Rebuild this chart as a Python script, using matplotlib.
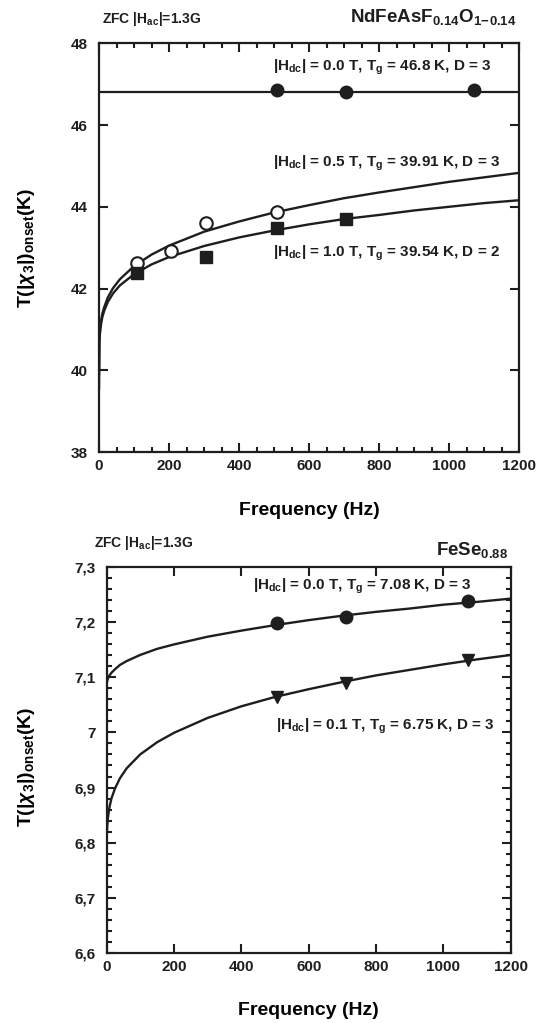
import numpy as np
import matplotlib
matplotlib.use('Agg')
import matplotlib.pyplot as plt
from matplotlib.ticker import MultipleLocator, FixedLocator, FixedFormatter

plt.rcParams['font.family'] = ['Liberation Sans', 'DejaVu Sans']
plt.rcParams['font.weight'] = 'bold'
plt.rcParams['mathtext.fontset'] = 'custom'
plt.rcParams['mathtext.rm'] = 'Liberation Sans:bold'
plt.rcParams['mathtext.it'] = 'Liberation Sans:italic'
plt.rcParams['mathtext.bf'] = 'Liberation Sans:bold'
plt.rcParams['mathtext.default'] = 'rm'

INK = '#1e1e1e'

# ---- NdFeAsF0.14O1-0.14 (top) ----
nd_f00 = [509, 707, 1071]
nd_t00 = [46.85, 46.82, 46.85]
nd_tg00 = 46.8
nd_f05 = [108, 205, 307, 509]
nd_t05 = [42.63, 42.91, 43.61, 43.87]
nd_f10 = [108, 307, 509, 707]
nd_t10 = [42.37, 42.78, 43.48, 43.69]

# fitted curves
fit_f = [0, 1, 2, 4, 7, 10, 15, 25, 40, 60, 100, 150, 200, 300, 400,
         500, 600, 700, 800, 900, 1000, 1100, 1200]
nd_fit05 = [39.91, 40.75, 40.90, 41.09, 41.27, 41.40, 41.55, 41.78, 42.01,
            42.23, 42.55, 42.83, 43.05, 43.39, 43.64, 43.86, 44.04, 44.21,
            44.35, 44.48, 44.61, 44.72, 44.83]
nd_fit10 = [39.54, 40.66, 40.83, 41.02, 41.19, 41.32, 41.46, 41.67, 41.88,
            42.08, 42.35, 42.59, 42.77, 43.04, 43.25, 43.42, 43.57, 43.70,
            43.80, 43.91, 44.00, 44.09, 44.16]

# ---- FeSe0.88 (bottom) ----
fe_f00 = [507, 710, 1073]
fe_t00 = [7.198, 7.208, 7.238]
fe_f01 = [507, 710, 1073]
fe_t01 = [7.064, 7.090, 7.130]
fe_fit00 = [7.080, 7.090, 7.093, 7.097, 7.101, 7.104, 7.108, 7.114, 7.122,
            7.129, 7.140, 7.151, 7.159, 7.173, 7.184, 7.194, 7.203, 7.211,
            7.218, 7.224, 7.231, 7.236, 7.242]
fe_fit01 = [6.750, 6.816, 6.829, 6.844, 6.858, 6.868, 6.881, 6.898, 6.917,
            6.935, 6.960, 6.982, 6.999, 7.026, 7.047, 7.064, 7.078, 7.091,
            7.103, 7.113, 7.123, 7.132, 7.140]
fe_yticks = [6.6, 6.7, 6.8, 6.9, 7.0, 7.1, 7.2, 7.3]
fe_ylabels = ['6,6', '6,7', '6,8', '6,9', '7', '7,1', '7,2', '7,3']

ylab = r'T(|$\mathit{\chi}_3$|)$_{\rm onset}$(K)'


def style(ax):
    for s in ax.spines.values():
        s.set_linewidth(1.6)
        s.set_color(INK)
    ax.tick_params(which='both', direction='in', top=True, right=True,
                   width=1.5, colors=INK, labelsize=11)
    ax.tick_params(which='major', length=6.5)
    ax.tick_params(which='minor', length=3.3)
    ax.tick_params(axis='x', pad=5)
    ax.tick_params(axis='y', pad=8)


fig = plt.figure(figsize=(5.51, 10.23), dpi=100)

# top panel
ax1 = fig.add_axes([0.1797, 0.5581, 0.7623, 0.3996])
ax1.axhline(nd_tg00, color=INK, lw=1.6)
ax1.plot(fit_f, nd_fit05, color=INK, lw=1.7)
ax1.plot(fit_f, nd_fit10, color=INK, lw=1.7)
ax1.plot(nd_f00, nd_t00, 'o', color=INK, ms=9)
ax1.plot(nd_f05, nd_t05, 'o', mfc='white', mec=INK, mew=1.5, ms=9)
ax1.plot(nd_f10, nd_t10, 's', color=INK, ms=9)
ax1.set_xlim(0, 1200)
ax1.set_ylim(38, 48)
ax1.xaxis.set_major_locator(MultipleLocator(200))
ax1.xaxis.set_minor_locator(MultipleLocator(50))
ax1.yaxis.set_major_locator(MultipleLocator(2))
style(ax1)
ax1.set_xlabel('Frequency (Hz)', fontsize=14, fontweight='bold', va='baseline')
ax1.xaxis.set_label_coords(0.5, -0.154)
ax1.set_ylabel(ylab, fontsize=14, fontweight='bold')
ax1.yaxis.set_label_coords(-0.148, 0.5)
ax1.text(498, 47.33, r'|H$_{\rm dc}$| = 0.0 T, T$_{\rm g}$ = 46.8 K, D = 3',
         fontsize=11, va='baseline', color=INK)
ax1.text(498, 44.98, r'|H$_{\rm dc}$| = 0.5 T, T$_{\rm g}$ = 39.91 K, D = 3',
         fontsize=11, va='baseline', color=INK)
ax1.text(498, 42.77, r'|H$_{\rm dc}$| = 1.0 T, T$_{\rm g}$ = 39.54 K, D = 2',
         fontsize=11, va='baseline', color=INK)
fig.text(101.7 / 551, 1 - 22.7 / 1023, r'ZFC |H$_{\rm ac}$|=1.3G',
         fontsize=10, va='baseline', color=INK)
fig.text(517 / 551, 1 - 21.7 / 1023, r'NdFeAsF$_{\rm 0.14}$O$_{\rm 1\!-\!0.14}$',
         fontsize=13.5, ha='right', va='baseline', color=INK)

# bottom panel
ax2 = fig.add_axes([0.1933, 0.0681, 0.7339, 0.3781])
ax2.plot(fit_f, fe_fit00, color=INK, lw=1.7)
ax2.plot(fit_f, fe_fit01, color=INK, lw=1.7)
ax2.plot(fe_f00, fe_t00, 'o', color=INK, ms=9)
ax2.plot(fe_f01, fe_t01, 'v', color=INK, ms=9)
ax2.set_xlim(0, 1200)
ax2.set_ylim(6.6, 7.3)
ax2.xaxis.set_major_locator(MultipleLocator(200))
ax2.yaxis.set_major_locator(FixedLocator(fe_yticks))
ax2.yaxis.set_major_formatter(FixedFormatter(fe_ylabels))
ax2.yaxis.set_minor_locator(MultipleLocator(0.02))
style(ax2)
ax2.set_xlabel('Frequency (Hz)', fontsize=14, fontweight='bold', va='baseline')
ax2.xaxis.set_label_coords(0.5, -0.16)
ax2.set_ylabel(ylab, fontsize=14, fontweight='bold')
ax2.yaxis.set_label_coords(-0.172, 0.483)
ax2.text(436, 7.2575, r'|H$_{\rm dc}$| = 0.0 T, T$_{\rm g}$ = 7.08 K, D = 3',
         fontsize=11, va='baseline', color=INK)
ax2.text(502, 7.004, r'|H$_{\rm dc}$| = 0.1 T, T$_{\rm g}$ = 6.75 K, D = 3',
         fontsize=11, va='baseline', color=INK)
fig.text(94.1 / 551, 1 - 546.7 / 1023, r'ZFC |H$_{\rm ac}$|=1.3G',
         fontsize=10, va='baseline', color=INK)
fig.text(508 / 551, 1 - 555 / 1023, r'FeSe$_{\rm 0.88}$',
         fontsize=13.5, ha='right', va='baseline', color=INK)

fig.savefig('out.png', dpi=100)
